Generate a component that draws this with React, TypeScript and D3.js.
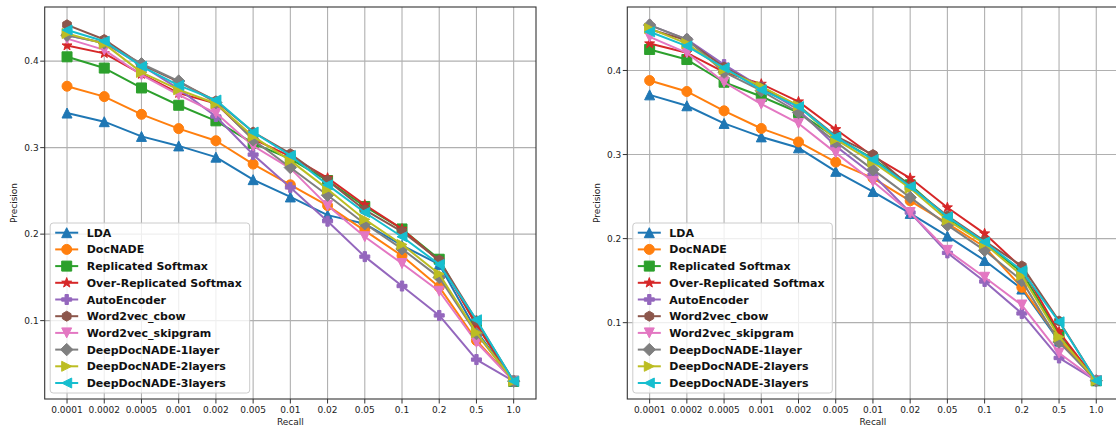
import { useEffect, useRef } from "react";
import * as d3 from "d3";

const recallLabels = ["0.0001", "0.0002", "0.0005", "0.001", "0.002", "0.005", "0.01", "0.02", "0.05", "0.1", "0.2", "0.5", "1.0"];
const precisionTicks = [0.1, 0.2, 0.3, 0.4];

const seriesNames = [
  "LDA",
  "DocNADE",
  "Replicated Softmax",
  "Over-Replicated Softmax",
  "AutoEncoder",
  "Word2vec_cbow",
  "Word2vec_skipgram",
  "DeepDocNADE-1layer",
  "DeepDocNADE-2layers",
  "DeepDocNADE-3layers"
];
const seriesColors = ["#1f77b4", "#ff7f0e", "#2ca02c", "#d62728", "#9467bd", "#8c564b", "#e377c2", "#7f7f7f", "#bcbd22", "#17becf"];
const seriesMarkers = ["^", "o", "s", "*", "P", "h", "v", "D", ">", "<"];

// left panel, one row per series
const precisionLeft = [
  [0.340, 0.330, 0.313, 0.302, 0.289, 0.263, 0.243, 0.222, 0.212, 0.187, 0.165, 0.088, 0.030],
  [0.371, 0.359, 0.3385, 0.322, 0.308, 0.281, 0.257, 0.233, 0.204, 0.175, 0.139, 0.077, 0.030],
  [0.405, 0.392, 0.369, 0.349, 0.331, 0.305, 0.287, 0.262, 0.232, 0.206, 0.171, 0.095, 0.030],
  [0.418, 0.409, 0.385, 0.363, 0.351, 0.310, 0.290, 0.265, 0.234, 0.206, 0.169, 0.095, 0.030],
  [0.430, 0.421, 0.395, 0.368, 0.336, 0.292, 0.254, 0.215, 0.174, 0.140, 0.106, 0.055, 0.030],
  [0.442, 0.425, 0.396, 0.376, 0.354, 0.318, 0.293, 0.262, 0.228, 0.203, 0.170, 0.100, 0.030],
  [0.426, 0.413, 0.384, 0.361, 0.340, 0.302, 0.276, 0.233, 0.197, 0.166, 0.134, 0.075, 0.030],
  [0.430, 0.421, 0.397, 0.377, 0.352, 0.309, 0.277, 0.245, 0.212, 0.183, 0.150, 0.085, 0.030],
  [0.432, 0.420, 0.387, 0.367, 0.351, 0.313, 0.285, 0.252, 0.217, 0.188, 0.154, 0.086, 0.030],
  [0.436, 0.423, 0.394, 0.372, 0.355, 0.318, 0.291, 0.257, 0.225, 0.197, 0.165, 0.101, 0.030]
];

// right panel
const precisionRight = [
  [0.371, 0.358, 0.337, 0.321, 0.308, 0.280, 0.256, 0.230, 0.203, 0.174, 0.140, 0.078, 0.031],
  [0.388, 0.375, 0.352, 0.331, 0.315, 0.291, 0.272, 0.245, 0.218, 0.190, 0.142, 0.080, 0.031],
  [0.425, 0.413, 0.386, 0.369, 0.350, 0.320, 0.295, 0.264, 0.225, 0.195, 0.160, 0.086, 0.031],
  [0.432, 0.421, 0.398, 0.384, 0.363, 0.330, 0.298, 0.272, 0.237, 0.206, 0.165, 0.089, 0.031],
  [0.454, 0.437, 0.407, 0.380, 0.353, 0.310, 0.276, 0.231, 0.183, 0.149, 0.111, 0.058, 0.031],
  [0.449, 0.436, 0.404, 0.380, 0.358, 0.322, 0.300, 0.262, 0.227, 0.197, 0.1675, 0.102, 0.031],
  [0.440, 0.421, 0.386, 0.360, 0.337, 0.302, 0.268, 0.231, 0.186, 0.154, 0.121, 0.064, 0.031],
  [0.454, 0.437, 0.398, 0.376, 0.350, 0.315, 0.282, 0.249, 0.216, 0.186, 0.150, 0.077, 0.031],
  [0.450, 0.432, 0.401, 0.381, 0.358, 0.318, 0.291, 0.260, 0.222, 0.194, 0.156, 0.083, 0.031],
  [0.446, 0.429, 0.403, 0.377, 0.357, 0.321, 0.294, 0.262, 0.226, 0.196, 0.162, 0.101, 0.031]
];

function markerPath(m, s) {
  const h = s / 2;
  const p = d3.path();
  if (m === "o") {
    p.arc(0, 0, h, 0, Math.PI * 2);
    return p.toString();
  }
  const poly = (pts) => "M" + pts.map((q) => q.join(",")).join("L") + "Z";
  if (m === "^") return poly([[0, -h], [h, h], [-h, h]]);
  if (m === "v") return poly([[0, h], [h, -h], [-h, -h]]);
  if (m === ">") return poly([[h, 0], [-h, -h], [-h, h]]);
  if (m === "<") return poly([[-h, 0], [h, -h], [h, h]]);
  if (m === "s") return poly([[-h, -h], [h, -h], [h, h], [-h, h]]);
  if (m === "D") {
    const d = s * 0.62;
    return poly([[0, -d], [d, 0], [0, d], [-d, 0]]);
  }
  if (m === "*") {
    const pts = [];
    for (let i = 0; i < 10; i++) {
      const r = i % 2 === 0 ? h * 1.05 : h * 0.42;
      const a = -Math.PI / 2 + (i * Math.PI) / 5;
      pts.push([r * Math.cos(a), r * Math.sin(a)]);
    }
    return poly(pts);
  }
  if (m === "h") {
    const pts = [];
    for (let i = 0; i < 6; i++) {
      const a = -Math.PI / 2 + (i * Math.PI) / 3;
      pts.push([h * Math.cos(a), h * Math.sin(a)]);
    }
    return poly(pts);
  }
  if (m === "P") {
    const t = s / 6;
    return poly([[-t, -h], [t, -h], [t, -t], [h, -t], [h, t], [t, t], [t, h], [-t, h], [-t, t], [-h, t], [-h, -t], [-t, -t]]);
  }
  return "";
}

export default function App() {
  const ref = useRef(null);

  useEffect(() => {
    const svg = d3.select(ref.current);
    svg.selectAll("*").remove();

    const panels = [
      { left: 44.7, right: 536, yDomain: [0.0094, 0.4626], values: precisionLeft, labelX: 14.3 },
      { left: 627.3, right: 1118.6, yDomain: [0.0092, 0.4755], values: precisionRight, labelX: 597 }
    ];
    const top = 7;
    const bottom = 399;
    const ms = 10;
    const font = "DejaVu Sans, sans-serif";

    panels.forEach((pn) => {
      const g = svg.append("g");
      const pad = (pn.right - pn.left) * (0.6 / 13.2);
      const x = d3.scalePoint().domain(recallLabels).range([pn.left + pad, pn.right - pad]);
      const y = d3.scaleLinear().domain(pn.yDomain).range([bottom, top]);

      // grid
      recallLabels.forEach((r) => {
        g.append("line")
          .attr("x1", x(r)).attr("x2", x(r))
          .attr("y1", top).attr("y2", bottom)
          .attr("stroke", "#b0b0b0").attr("stroke-width", 1.1);
      });
      precisionTicks.forEach((t) => {
        g.append("line")
          .attr("x1", pn.left).attr("x2", pn.right)
          .attr("y1", y(t)).attr("y2", y(t))
          .attr("stroke", "#b0b0b0").attr("stroke-width", 1.1);
      });

      // series
      pn.values.forEach((vals, si) => {
        const pts = vals.map((v, i) => [x(recallLabels[i]), y(v)]);
        g.append("path")
          .attr("d", d3.line()(pts))
          .attr("fill", "none")
          .attr("stroke", seriesColors[si])
          .attr("stroke-width", 2)
          .attr("stroke-linejoin", "round");
        const mp = markerPath(seriesMarkers[si], ms);
        pts.forEach((p) => {
          g.append("path")
            .attr("d", mp)
            .attr("transform", `translate(${p[0]},${p[1]})`)
            .attr("fill", seriesColors[si])
            .attr("stroke", seriesColors[si])
            .attr("stroke-width", 1)
            .attr("stroke-linejoin", "miter");
        });
      });

      // frame
      g.append("rect")
        .attr("x", pn.left).attr("y", top)
        .attr("width", pn.right - pn.left).attr("height", bottom - top)
        .attr("fill", "none").attr("stroke", "#333").attr("stroke-width", 1.1);

      // x ticks
      recallLabels.forEach((r) => {
        g.append("line")
          .attr("x1", x(r)).attr("x2", x(r))
          .attr("y1", bottom).attr("y2", bottom + 4.5)
          .attr("stroke", "#333");
        g.append("text")
          .attr("x", x(r)).attr("y", bottom + 13.5)
          .attr("text-anchor", "middle")
          .attr("font-family", font).attr("font-size", 9)
          .attr("fill", "#222")
          .text(r);
      });
      // y ticks
      precisionTicks.forEach((t) => {
        g.append("line")
          .attr("x1", pn.left - 4.5).attr("x2", pn.left)
          .attr("y1", y(t)).attr("y2", y(t))
          .attr("stroke", "#333");
        g.append("text")
          .attr("x", pn.left - 6).attr("y", y(t) + 3.3)
          .attr("text-anchor", "end")
          .attr("font-family", font).attr("font-size", 9)
          .attr("fill", "#222")
          .text(d3.format(".1f")(t));
      });

      g.append("text")
        .attr("x", (pn.left + pn.right) / 2).attr("y", 425)
        .attr("text-anchor", "middle")
        .attr("font-family", font).attr("font-size", 9)
        .attr("fill", "#222")
        .text("Recall");
      g.append("text")
        .attr("transform", `translate(${pn.labelX + 3},${(top + bottom) / 2}) rotate(-90)`)
        .attr("text-anchor", "middle")
        .attr("font-family", font).attr("font-size", 9)
        .attr("fill", "#222")
        .text("Precision");

      // legend
      const lx = pn.left + 5.5;
      const ly = 223;
      g.append("rect")
        .attr("x", lx).attr("y", ly)
        .attr("width", 199.5).attr("height", 170)
        .attr("rx", 3)
        .attr("fill", "white").attr("fill-opacity", 0.8)
        .attr("stroke", "#cccccc").attr("stroke-width", 1);
      seriesNames.forEach((name, si) => {
        const cy = ly + 9.7 + si * 16.7;
        g.append("line")
          .attr("x1", lx + 5).attr("x2", lx + 28)
          .attr("y1", cy).attr("y2", cy)
          .attr("stroke", seriesColors[si]).attr("stroke-width", 2);
        g.append("path")
          .attr("d", markerPath(seriesMarkers[si], ms))
          .attr("transform", `translate(${lx + 16.5},${cy})`)
          .attr("fill", seriesColors[si])
          .attr("stroke", seriesColors[si]);
        g.append("text")
          .attr("x", lx + 36.5).attr("y", cy + 4)
          .attr("font-family", font).attr("font-size", 11)
          .attr("font-weight", "bold")
          .attr("fill", "#111")
          .text(name);
      });
    });
  }, []);

  return (
    <>
      <style>{"body{margin:0;overflow:hidden}"}</style>
      <svg ref={ref} width={1116} height={427} style={{ display: "block", background: "white" }}></svg>
    </>
  );
}
